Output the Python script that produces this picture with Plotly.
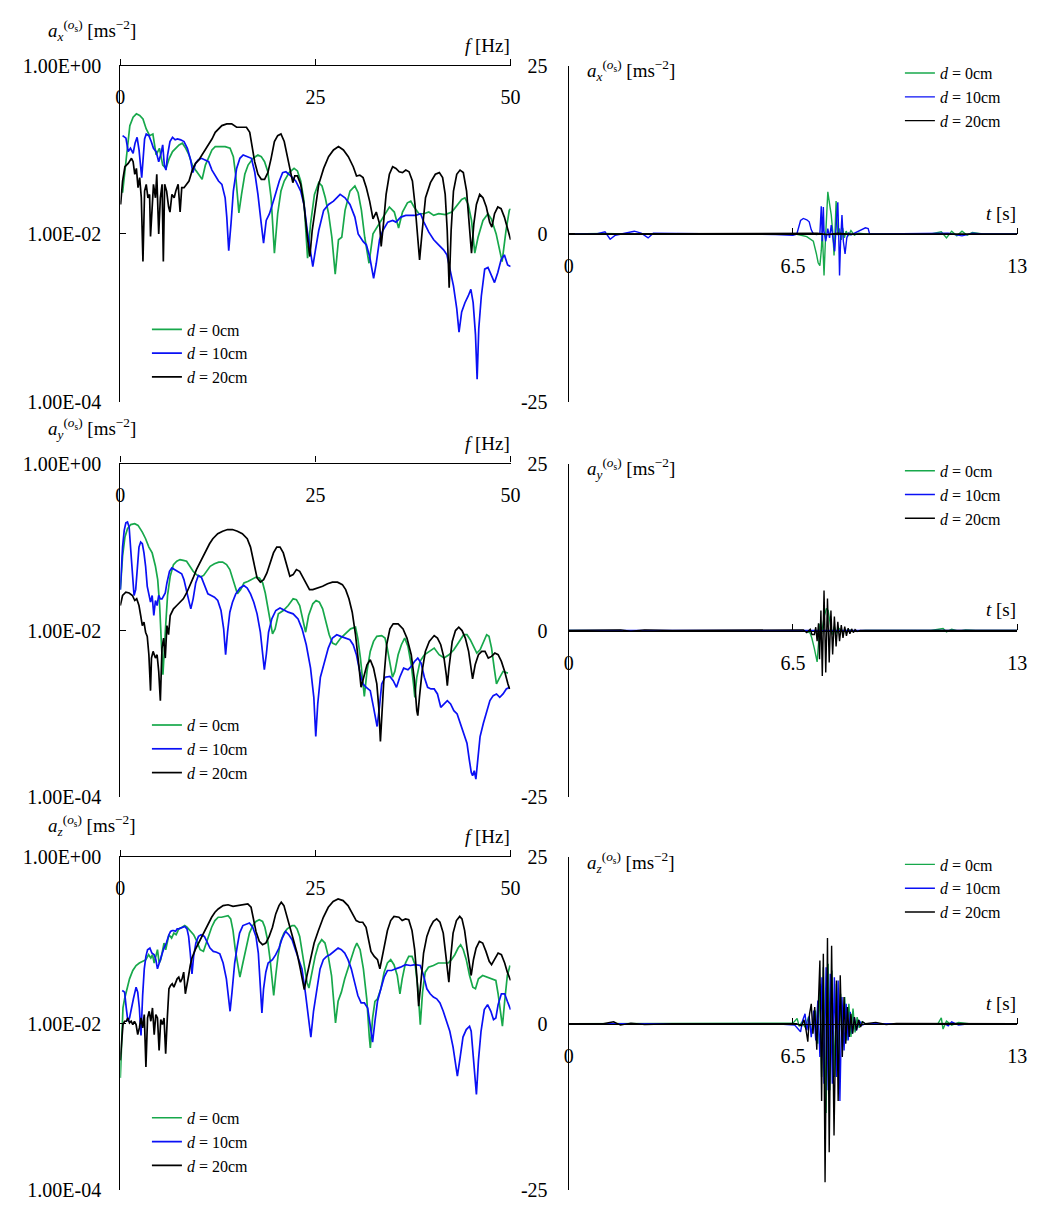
import numpy as np
import plotly.graph_objects as go

# ---------------- spectra (f [Hz], log10 amplitude) ----------------
SX_D0 = [(0.29,-1.51),(0.80,-1.06),(1.22,-0.71),(1.64,-0.61),(2.06,-0.57),(2.48,-0.59),(2.90,-0.63),(3.32,-0.75),(3.75,-0.83),(4.17,-0.81),(4.59,-1.06),(5.01,-0.98),(5.43,-1.18),(5.85,-1.22),(6.27,-1.10),(6.69,-1.02),(7.11,-0.98),(7.53,-0.94),(7.95,-0.92),(8.38,-0.98),(8.80,-1.06),(9.22,-1.18),(9.64,-1.24),(10.06,-1.29),(10.48,-1.35),(10.90,-1.18),(11.32,-1.08),(11.74,-1.00),(12.16,-0.96),(12.79,-0.96),(13.43,-0.96),(14.06,-0.98),(14.48,-1.08),(14.77,-1.29),(15.19,-1.75),(15.53,-1.53),(15.95,-1.29),(16.37,-1.18),(17.00,-1.10),(17.63,-1.06),(18.06,-1.08),(18.48,-1.14),(18.90,-1.26),(19.32,-1.57),(19.74,-2.23),(20.16,-1.76),(20.58,-1.49),(21.00,-1.37),(21.63,-1.27),(22.26,-1.22),(22.69,-1.25),(23.11,-1.37),(23.53,-1.61),(23.99,-2.29),(24.37,-1.88),(24.87,-1.53),(25.42,-1.39),(25.84,-1.43),(26.26,-1.57),(26.68,-1.76),(27.10,-2.04),(27.53,-2.48),(27.95,-2.07),(28.37,-2.04),(28.79,-1.72),(29.42,-1.49),(30.05,-1.43),(30.47,-1.51),(30.89,-1.72),(31.31,-2.04),(31.86,-2.35),(32.37,-2.00),(33.00,-1.90),(33.63,-1.80),(34.47,-1.68),(35.10,-1.74),(35.65,-1.93),(36.15,-1.74),(36.78,-1.63),(37.21,-1.61),(37.63,-1.68),(38.26,-1.76),(38.89,-1.76),(39.52,-1.74),(40.15,-1.78),(40.78,-1.76),(41.62,-1.77),(42.47,-1.74),(43.10,-1.66),(43.73,-1.59),(44.15,-1.57),(44.57,-1.65),(44.99,-1.84),(45.41,-2.23),(45.83,-2.04),(46.46,-1.84),(47.10,-1.76),(47.52,-1.82),(48.15,-2.00),(48.91,-2.33),(49.41,-1.96),(49.83,-1.72),(50.0,-1.70)]
SX_D10 = [(0.29,-0.83),(0.72,-0.86),(1.01,-1.02),(1.30,-0.98),(1.64,-1.04),(1.89,-0.92),(2.15,-0.85),(2.40,-1.00),(2.74,-1.33),(3.11,-0.87),(3.32,-0.81),(3.66,-0.83),(3.96,-0.90),(4.25,-0.98),(4.59,-1.02),(4.92,-1.14),(5.22,-1.04),(5.43,-0.94),(5.64,-1.18),(5.85,-1.24),(6.06,-1.06),(6.36,-0.90),(6.69,-0.85),(7.03,-0.88),(7.32,-0.87),(7.74,-0.88),(8.16,-0.90),(8.59,-0.98),(9.01,-1.12),(9.30,-1.27),(9.64,-1.16),(9.97,-1.12),(10.40,-1.10),(10.82,-1.12),(11.32,-1.14),(11.74,-1.24),(12.16,-1.31),(12.58,-1.37),(13.01,-1.41),(13.43,-1.57),(13.64,-1.80),(13.89,-2.20),(14.18,-1.88),(14.48,-1.49),(14.90,-1.22),(15.32,-1.10),(15.74,-1.06),(16.37,-1.08),(16.79,-1.10),(17.21,-1.26),(17.63,-1.53),(18.06,-1.88),(18.35,-2.11),(18.69,-1.84),(19.11,-1.76),(19.74,-1.57),(20.37,-1.37),(20.79,-1.27),(21.21,-1.26),(21.84,-1.31),(22.47,-1.37),(23.11,-1.49),(23.53,-1.65),(23.95,-1.96),(24.28,-2.19),(24.66,-2.39),(25.00,-2.19),(25.42,-1.96),(26.05,-1.72),(26.68,-1.65),(27.31,-1.61),(28.16,-1.53),(28.79,-1.57),(29.42,-1.65),(30.05,-1.80),(30.47,-2.00),(31.10,-2.09),(31.52,-2.13),(31.94,-2.27),(32.45,-2.53),(32.79,-2.35),(33.21,-2.07),(33.63,-1.96),(34.26,-1.86),(34.89,-1.84),(35.31,-1.86),(35.94,-1.80),(36.57,-1.78),(37.21,-1.78),(37.84,-1.78),(38.47,-1.76),(38.89,-1.86),(39.52,-1.98),(40.15,-2.07),(40.78,-2.13),(41.41,-2.19),(41.84,-2.25),(42.26,-2.42),(42.68,-2.62),(43.10,-2.89),(43.39,-3.17),(43.73,-2.93),(44.15,-2.82),(44.57,-2.74),(44.91,-2.66),(45.20,-2.82),(45.50,-3.20),(45.71,-3.73),(45.92,-3.13),(46.25,-2.74),(46.68,-2.42),(47.10,-2.40),(47.52,-2.50),(47.94,-2.58),(48.36,-2.46),(48.78,-2.31),(49.20,-2.25),(49.62,-2.37),(50.0,-2.39)]
SX_D20 = [(0.04,-1.65),(0.29,-1.37),(0.59,-1.20),(1.01,-1.16),(1.43,-1.10),(1.64,-1.14),(1.85,-1.29),(2.06,-1.22),(2.27,-1.45),(2.48,-1.33),(2.69,-1.57),(2.90,-2.33),(3.11,-1.49),(3.32,-1.41),(3.54,-1.57),(3.75,-1.53),(3.87,-2.03),(4.08,-1.57),(4.25,-1.41),(4.50,-1.57),(4.67,-1.29),(4.92,-2.00),(5.13,-1.57),(5.35,-1.41),(5.51,-2.33),(5.68,-1.41),(5.93,-1.49),(6.19,-1.68),(6.36,-1.74),(6.61,-1.53),(6.90,-1.57),(7.11,-1.49),(7.41,-1.41),(7.66,-1.74),(7.87,-1.45),(8.16,-1.45),(8.46,-1.41),(8.80,-1.37),(9.22,-1.24),(9.64,-1.16),(10.06,-1.12),(10.48,-1.06),(10.90,-1.00),(11.32,-0.94),(11.74,-0.87),(12.16,-0.79),(12.58,-0.75),(13.01,-0.71),(13.64,-0.69),(14.27,-0.69),(14.90,-0.73),(15.53,-0.73),(16.16,-0.73),(16.58,-0.79),(16.88,-0.94),(17.21,-1.14),(17.63,-1.29),(18.06,-1.35),(18.48,-1.35),(18.90,-1.27),(19.32,-1.10),(19.74,-0.90),(20.16,-0.83),(20.58,-0.81),(21.00,-0.90),(21.42,-1.10),(21.84,-1.29),(22.10,-1.39),(22.35,-1.31),(22.69,-1.31),(23.11,-1.41),(23.53,-1.65),(23.95,-2.03),(24.28,-2.27),(24.58,-1.96),(25.00,-1.65),(25.42,-1.41),(26.05,-1.22),(26.68,-1.08),(27.31,-1.00),(27.95,-0.96),(28.58,-1.00),(29.21,-1.08),(29.84,-1.20),(30.26,-1.31),(30.68,-1.30),(31.10,-1.33),(31.52,-1.45),(31.94,-1.61),(32.37,-1.82),(32.79,-1.74),(33.21,-1.88),(33.42,-2.15),(33.71,-1.88),(34.05,-1.53),(34.47,-1.29),(34.89,-1.20),(35.31,-1.22),(35.73,-1.26),(36.15,-1.27),(36.57,-1.24),(36.99,-1.26),(37.42,-1.37),(37.75,-1.65),(38.05,-2.03),(38.34,-2.31),(38.68,-1.96),(39.10,-1.57),(39.73,-1.39),(40.36,-1.29),(40.87,-1.27),(41.29,-1.33),(41.62,-1.53),(41.88,-1.96),(42.13,-2.64),(42.38,-1.96),(42.68,-1.49),(43.10,-1.29),(43.52,-1.24),(43.94,-1.27),(44.36,-1.49),(44.70,-1.84),(44.99,-2.23),(45.29,-1.88),(45.62,-1.65),(46.04,-1.53),(46.46,-1.57),(46.89,-1.68),(47.31,-1.86),(47.60,-1.92),(47.94,-1.76),(48.36,-1.68),(48.78,-1.70),(49.20,-1.80),(49.62,-1.96),(50.0,-2.07)]

SY_D0 = [(0.00,-1.51),(0.29,-1.11),(0.59,-0.88),(0.92,-0.78),(1.34,-0.73),(1.85,-0.72),(2.27,-0.74),(2.82,-0.82),(3.24,-0.90),(3.66,-1.00),(4.08,-1.07),(4.50,-1.23),(4.79,-1.39),(5.04,-1.70),(5.25,-2.13),(5.46,-2.53),(5.76,-2.02),(6.05,-1.58),(6.39,-1.35),(6.81,-1.21),(7.23,-1.17),(7.65,-1.15),(8.07,-1.16),(8.49,-1.17),(8.91,-1.23),(9.33,-1.29),(9.75,-1.33),(10.25,-1.36),(10.67,-1.34),(11.09,-1.29),(11.51,-1.23),(12.06,-1.20),(12.61,-1.18),(13.11,-1.18),(13.61,-1.21),(14.03,-1.27),(14.37,-1.37),(14.71,-1.49),(15.00,-1.56),(15.42,-1.51),(15.84,-1.43),(16.39,-1.41),(16.89,-1.38),(17.39,-1.36),(17.82,-1.37),(18.24,-1.43),(18.57,-1.55),(18.91,-1.74),(19.24,-1.94),(19.50,-2.04),(19.83,-1.98),(20.25,-1.80),(20.88,-1.76),(21.51,-1.70),(22.14,-1.62),(22.56,-1.63),(22.98,-1.70),(23.40,-1.86),(23.74,-2.02),(24.12,-1.82),(24.66,-1.68),(25.08,-1.64),(25.50,-1.66),(25.92,-1.74),(26.34,-1.88),(26.76,-2.05),(27.18,-2.15),(27.61,-2.17),(28.24,-2.09),(28.87,-2.04),(29.50,-1.98),(30.13,-1.96),(30.42,-2.09),(30.76,-2.33),(31.26,-2.79),(31.60,-2.49),(32.02,-2.25),(32.44,-2.13),(32.86,-2.07),(33.49,-2.06),(33.91,-2.09),(34.20,-2.21),(34.54,-2.41),(34.87,-2.56),(35.17,-2.49),(35.59,-2.29),(36.01,-2.17),(36.43,-2.09),(36.85,-2.19),(37.27,-2.41),(37.56,-2.64),(37.73,-2.80),(37.98,-2.56),(38.40,-2.37),(38.95,-2.29),(39.58,-2.25),(40.21,-2.21),(40.84,-2.29),(41.47,-2.33),(42.10,-2.29),(42.73,-2.23),(43.15,-2.17),(43.57,-2.11),(43.99,-2.05),(44.41,-2.05),(44.83,-2.11),(45.25,-2.19),(45.67,-2.27),(46.09,-2.23),(46.51,-2.13),(46.93,-2.05),(47.23,-2.07),(47.56,-2.21),(47.90,-2.45),(48.19,-2.64),(48.61,-2.56),(49.03,-2.49),(49.66,-2.51)]
SY_D10 = [(0.00,-1.51),(0.29,-1.00),(0.50,-0.80),(0.71,-0.71),(0.92,-0.70),(1.13,-0.76),(1.34,-1.04),(1.55,-1.35),(1.76,-1.58),(1.97,-1.51),(2.18,-1.23),(2.39,-1.00),(2.61,-0.94),(2.82,-0.96),(3.03,-1.07),(3.24,-1.23),(3.45,-1.47),(3.66,-1.58),(3.87,-1.66),(4.08,-1.58),(4.29,-1.82),(4.50,-1.64),(4.71,-1.70),(4.92,-1.58),(5.13,-1.62),(5.34,-1.62),(5.55,-1.58),(5.76,-1.55),(5.97,-1.43),(6.30,-1.29),(6.60,-1.25),(7.02,-1.27),(7.44,-1.29),(7.86,-1.32),(8.15,-1.39),(8.49,-1.55),(8.82,-1.66),(9.03,-1.74),(9.33,-1.62),(9.66,-1.43),(10.00,-1.34),(10.38,-1.36),(10.80,-1.47),(11.22,-1.56),(11.64,-1.58),(12.06,-1.60),(12.48,-1.64),(12.90,-1.76),(13.24,-1.98),(13.49,-2.29),(13.74,-2.02),(14.03,-1.78),(14.37,-1.66),(14.79,-1.56),(15.34,-1.49),(15.84,-1.46),(16.26,-1.49),(16.68,-1.56),(17.10,-1.66),(17.52,-1.80),(17.94,-2.02),(18.24,-2.29),(18.45,-2.47),(18.70,-2.29),(18.99,-2.02),(19.41,-1.86),(19.92,-1.76),(20.46,-1.73),(21.01,-1.76),(21.51,-1.78),(22.14,-1.80),(22.77,-1.86),(23.28,-1.98),(23.82,-2.17),(24.37,-2.45),(24.79,-2.80),(25.04,-3.27),(25.29,-2.88),(25.63,-2.56),(26.13,-2.37),(26.64,-2.21),(27.18,-2.09),(27.73,-2.05),(28.24,-2.07),(28.87,-2.09),(29.41,-2.11),(29.83,-2.17),(30.25,-2.29),(30.67,-2.49),(31.09,-2.64),(31.51,-2.68),(32.02,-2.72),(32.44,-2.92),(32.73,-3.07),(32.90,-3.15),(33.19,-2.92),(33.49,-2.64),(33.91,-2.56),(34.54,-2.55),(34.96,-2.60),(35.38,-2.68),(35.80,-2.56),(36.30,-2.45),(36.85,-2.47),(37.27,-2.43),(37.69,-2.37),(38.11,-2.33),(38.53,-2.39),(38.95,-2.56),(39.37,-2.68),(39.79,-2.70),(40.21,-2.70),(40.63,-2.76),(41.05,-2.92),(41.47,-2.88),(41.89,-2.84),(42.31,-2.88),(42.73,-2.96),(43.15,-3.00),(43.57,-3.11),(43.99,-3.23),(44.41,-3.35),(44.71,-3.55),(44.96,-3.70),(45.13,-3.74),(45.34,-3.68),(45.55,-3.78),(45.80,-3.51),(46.09,-3.27),(46.51,-3.11),(46.93,-2.96),(47.35,-2.84),(47.77,-2.78),(48.19,-2.76),(48.61,-2.80),(49.03,-2.76),(49.45,-2.70),(49.87,-2.68)]
SY_D20 = [(0.00,-1.70),(0.29,-1.58),(0.71,-1.54),(1.13,-1.55),(1.55,-1.58),(1.85,-1.64),(2.10,-1.62),(2.39,-1.70),(2.61,-1.82),(2.82,-1.94),(3.03,-1.90),(3.24,-2.02),(3.45,-2.07),(3.66,-2.29),(3.87,-2.72),(3.99,-2.33),(4.20,-2.25),(4.50,-2.33),(4.71,-2.29),(4.92,-2.49),(5.13,-2.84),(5.34,-2.21),(5.55,-2.09),(5.76,-2.33),(5.97,-1.94),(6.18,-2.05),(6.39,-1.82),(6.60,-1.78),(6.81,-1.74),(7.23,-1.70),(7.65,-1.66),(8.07,-1.62),(8.49,-1.55),(8.91,-1.47),(9.33,-1.37),(9.75,-1.27),(10.17,-1.19),(10.59,-1.11),(11.01,-1.04),(11.43,-0.96),(11.85,-0.90),(12.48,-0.84),(13.11,-0.81),(13.74,-0.79),(14.37,-0.79),(15.00,-0.81),(15.63,-0.84),(16.26,-0.90),(16.68,-1.00),(17.10,-1.17),(17.52,-1.37),(17.94,-1.42),(18.36,-1.39),(18.78,-1.31),(19.20,-1.19),(19.62,-1.07),(20.04,-1.00),(20.46,-1.00),(20.88,-1.07),(21.30,-1.21),(21.72,-1.35),(22.14,-1.33),(22.56,-1.27),(22.98,-1.29),(23.40,-1.37),(23.82,-1.45),(24.24,-1.51),(24.66,-1.51),(25.29,-1.49),(25.92,-1.47),(26.55,-1.44),(27.18,-1.42),(27.82,-1.42),(28.45,-1.45),(28.87,-1.51),(29.29,-1.62),(29.71,-1.78),(30.13,-2.05),(30.55,-2.41),(30.84,-2.68),(31.18,-2.56),(31.60,-2.41),(32.02,-2.35),(32.44,-2.45),(32.86,-2.64),(33.11,-2.92),(33.32,-3.33),(33.53,-2.96),(33.78,-2.56),(34.12,-2.17),(34.54,-1.98),(34.96,-1.92),(35.59,-1.92),(36.22,-1.98),(36.72,-2.09),(37.27,-2.29),(37.69,-2.60),(37.98,-2.96),(38.11,-3.02),(38.32,-2.80),(38.66,-2.49),(39.08,-2.25),(39.58,-2.13),(40.21,-2.06),(40.63,-2.09),(41.05,-2.17),(41.47,-2.33),(41.76,-2.53),(41.89,-2.66),(42.10,-2.45),(42.52,-2.13),(42.94,-2.00),(43.36,-1.96),(43.78,-2.00),(44.20,-2.09),(44.62,-2.25),(44.96,-2.49),(45.13,-2.58),(45.46,-2.41),(45.88,-2.29),(46.30,-2.25),(46.72,-2.25),(47.14,-2.33),(47.56,-2.31),(47.98,-2.27),(48.40,-2.29),(48.82,-2.37),(49.24,-2.49),(49.66,-2.64),(49.87,-2.70)]

SZ_D0 = [(0.00,-2.65),(0.17,-2.20),(0.34,-1.81),(0.55,-1.70),(0.84,-1.58),(1.18,-1.46),(1.60,-1.36),(2.02,-1.30),(2.44,-1.27),(2.86,-1.25),(3.28,-1.23),(3.62,-1.17),(3.91,-1.21),(4.12,-1.17),(4.34,-1.27),(4.55,-1.19),(4.76,-1.11),(4.97,-1.27),(5.18,-1.23),(5.39,-1.13),(5.60,-1.03),(5.81,-1.11),(6.02,-1.03),(6.23,-0.93),(6.57,-0.97),(6.86,-0.91),(7.15,-0.93),(7.49,-0.86),(7.91,-0.84),(8.25,-0.82),(8.54,-0.84),(8.96,-0.88),(9.39,-0.93),(9.81,-1.01),(10.23,-1.11),(10.65,-1.13),(10.94,-1.05),(11.28,-0.95),(11.70,-0.84),(12.12,-0.76),(12.54,-0.72),(12.96,-0.72),(13.38,-0.71),(13.80,-0.70),(14.14,-0.74),(14.44,-0.88),(14.73,-1.11),(14.98,-1.27),(15.32,-1.44),(15.70,-1.27),(16.12,-1.07),(16.54,-0.91),(16.96,-0.82),(17.38,-0.77),(17.80,-0.75),(18.22,-0.77),(18.52,-0.84),(18.86,-0.99),(19.19,-1.23),(19.44,-1.50),(19.65,-1.66),(19.91,-1.42),(20.20,-1.19),(20.54,-1.01),(20.96,-0.91),(21.38,-0.86),(22.01,-0.82),(22.31,-0.82),(22.64,-0.86),(22.98,-0.95),(23.27,-1.11),(23.61,-1.30),(23.91,-1.50),(24.16,-1.57),(24.54,-1.38),(24.96,-1.19),(25.38,-1.05),(25.80,-0.99),(26.22,-1.03),(26.64,-1.19),(27.06,-1.42),(27.36,-1.73),(27.57,-1.99),(27.90,-1.73),(28.32,-1.62),(28.75,-1.46),(29.38,-1.27),(30.01,-1.09),(30.30,-1.03),(30.72,-1.11),(31.14,-1.34),(31.57,-1.70),(31.90,-2.16),(32.03,-2.29),(32.32,-1.93),(32.62,-1.73),(32.95,-1.70),(33.38,-1.58),(33.80,-1.38),(34.22,-1.27),(34.64,-1.23),(35.06,-1.29),(35.48,-1.42),(35.82,-1.64),(36.11,-1.46),(36.53,-1.27),(36.95,-1.19),(37.37,-1.19),(37.79,-1.30),(38.13,-1.58),(38.43,-2.01),(38.72,-1.62),(39.06,-1.38),(39.48,-1.32),(40.11,-1.30),(40.74,-1.27),(41.37,-1.27),(42.00,-1.27),(42.42,-1.23),(42.85,-1.17),(43.27,-1.09),(43.60,-1.05),(43.94,-1.11),(44.32,-1.23),(44.74,-1.42),(45.16,-1.56),(45.50,-1.58),(45.88,-1.46),(46.42,-1.42),(47.05,-1.44),(47.68,-1.46),(48.11,-1.48),(48.40,-1.64),(48.65,-1.81),(48.95,-2.03),(49.24,-1.73),(49.58,-1.42),(49.92,-1.30)]
SZ_D10 = [(0.25,-1.60),(0.55,-1.62),(0.76,-1.81),(0.97,-1.97),(1.18,-1.93),(1.39,-1.81),(1.68,-1.70),(2.02,-1.56),(2.23,-1.62),(2.44,-1.81),(2.65,-2.14),(2.86,-1.66),(3.07,-1.34),(3.28,-1.19),(3.49,-1.11),(3.79,-1.09),(4.04,-1.15),(4.34,-1.17),(4.55,-1.23),(4.76,-1.34),(4.97,-1.27),(5.18,-1.19),(5.39,-1.15),(5.60,-1.09),(5.89,-1.03),(6.23,-0.93),(6.44,-0.89),(6.65,-0.88),(6.86,-0.88),(7.07,-0.89),(7.28,-0.86),(7.49,-0.86),(7.91,-0.84),(8.25,-0.83),(8.54,-0.86),(8.75,-0.95),(8.96,-1.15),(9.18,-1.40),(9.39,-1.19),(9.68,-1.03),(10.02,-0.95),(10.35,-0.93),(10.77,-0.95),(11.07,-1.01),(11.49,-1.09),(11.91,-1.13),(12.33,-1.14),(12.75,-1.16),(13.17,-1.27),(13.59,-1.46),(13.89,-1.68),(14.06,-1.85),(14.31,-1.62),(14.65,-1.27),(14.98,-1.07),(15.28,-0.91),(15.70,-0.82),(16.12,-0.80),(16.54,-0.79),(16.96,-0.84),(17.38,-0.95),(17.68,-1.15),(17.93,-1.50),(18.14,-1.87),(18.35,-1.58),(18.64,-1.38),(18.94,-1.27),(19.49,-1.23),(19.91,-1.17),(20.33,-1.09),(20.75,-0.97),(21.17,-0.89),(21.59,-0.93),(22.01,-0.99),(22.43,-1.11),(22.85,-1.23),(23.27,-1.34),(23.70,-1.62),(24.12,-1.93),(24.41,-2.16),(24.75,-1.85),(25.17,-1.58),(25.59,-1.34),(26.01,-1.23),(26.43,-1.19),(26.85,-1.17),(27.36,-1.13),(27.90,-1.09),(28.32,-1.11),(28.75,-1.15),(29.17,-1.23),(29.59,-1.34),(30.01,-1.50),(30.43,-1.66),(30.85,-1.75),(31.27,-1.75),(31.69,-1.81),(31.99,-2.01),(32.32,-2.22),(32.62,-1.97),(32.95,-1.73),(33.38,-1.58),(33.80,-1.44),(34.22,-1.36),(34.76,-1.36),(35.27,-1.34),(35.90,-1.32),(36.53,-1.29),(37.16,-1.30),(37.79,-1.29),(38.43,-1.30),(38.85,-1.42),(39.27,-1.58),(39.69,-1.64),(40.11,-1.68),(40.53,-1.70),(40.95,-1.75),(41.37,-1.85),(41.79,-1.97),(42.21,-2.09),(42.63,-2.28),(42.93,-2.48),(43.18,-2.63),(43.48,-2.44),(43.90,-2.16),(44.32,-2.07),(44.74,-2.03),(44.95,-2.09),(45.20,-2.36),(45.45,-2.67),(45.62,-2.85),(45.88,-2.44),(46.21,-2.09),(46.63,-1.83),(47.05,-1.77),(47.47,-1.85),(47.81,-1.95),(48.11,-1.93),(48.40,-1.77),(48.82,-1.64),(49.24,-1.64),(49.58,-1.73),(50.0,-1.83)]
SZ_D20 = [(0.00,-2.44),(0.17,-2.16),(0.34,-2.01),(0.55,-1.97),(0.76,-1.97),(0.97,-1.93),(1.18,-1.99),(1.39,-1.97),(1.60,-2.01),(1.81,-1.97),(2.02,-2.01),(2.23,-2.13),(2.44,-2.05),(2.65,-1.93),(2.86,-2.05),(3.07,-1.89),(3.28,-2.52),(3.49,-1.93),(3.70,-1.85),(3.91,-1.97),(4.12,-1.81),(4.34,-2.13),(4.55,-1.89),(4.76,-1.93),(4.97,-2.32),(5.18,-1.95),(5.39,-2.01),(5.60,-1.93),(5.81,-2.36),(6.02,-1.93),(6.23,-1.58),(6.44,-1.54),(6.65,-1.52),(6.86,-1.56),(7.07,-1.50),(7.28,-1.46),(7.49,-1.44),(7.70,-1.50),(7.91,-1.46),(8.12,-1.38),(8.33,-1.64),(8.54,-1.50),(8.75,-1.42),(8.96,-1.30),(9.18,-1.21),(9.60,-1.11),(10.02,-1.03),(10.44,-0.95),(10.86,-0.88),(11.28,-0.80),(11.70,-0.72),(12.12,-0.66),(12.54,-0.62),(13.17,-0.58),(13.80,-0.57),(14.44,-0.59),(15.07,-0.58),(15.70,-0.57),(16.33,-0.56),(16.75,-0.60),(17.09,-0.76),(17.38,-0.89),(17.80,-1.01),(18.22,-1.05),(18.64,-1.03),(19.07,-0.95),(19.49,-0.84),(19.91,-0.68),(20.33,-0.58),(20.62,-0.54),(20.96,-0.58),(21.38,-0.72),(21.80,-0.88),(22.22,-0.99),(22.64,-1.15),(23.06,-1.34),(23.40,-1.54),(23.57,-1.59),(23.91,-1.42),(24.33,-1.23),(24.83,-1.03),(25.38,-0.88),(26.01,-0.72),(26.64,-0.60),(27.27,-0.53),(27.90,-0.50),(28.54,-0.52),(29.17,-0.58),(29.80,-0.68),(30.22,-0.76),(30.64,-0.78),(31.06,-0.78),(31.48,-0.84),(31.82,-0.99),(32.11,-1.13),(32.53,-1.19),(32.95,-1.23),(33.25,-1.34),(33.50,-1.23),(33.80,-1.07),(34.22,-0.88),(34.64,-0.76),(35.06,-0.71),(35.69,-0.72),(36.11,-0.76),(36.53,-0.74),(36.95,-0.75),(37.37,-0.88),(37.71,-1.11),(38.01,-1.46),(38.22,-1.79),(38.51,-1.50),(38.85,-1.15),(39.27,-0.95),(39.69,-0.84),(40.11,-0.77),(40.53,-0.74),(40.95,-0.78),(41.37,-0.91),(41.67,-1.15),(41.92,-1.38),(42.09,-1.50),(42.34,-1.19),(42.63,-0.91),(43.06,-0.76),(43.48,-0.71),(43.77,-0.74),(44.11,-0.88),(44.44,-1.11),(44.74,-1.30),(44.95,-1.42),(45.24,-1.23),(45.58,-1.09),(46.00,-1.01),(46.42,-1.03),(46.84,-1.13),(47.26,-1.25),(47.56,-1.29),(47.98,-1.21),(48.40,-1.15),(48.82,-1.17),(49.24,-1.27),(49.58,-1.38),(50.0,-1.48)]

# ---------------- time histories (t [s], a [m/s^2]) ----------------
TX_D0 = [(0,0),(1.0,0.05),(2.0,-0.05),(3.0,0),(4.0,0.02),(5.0,0),(6.0,0),(6.61,-0.05),(6.90,-0.4),(7.09,-1.1),(7.18,-3.0),(7.23,-4.3),(7.28,-4.75),(7.32,-2.5),(7.35,0.5),(7.38,-3.5),(7.40,-6.2),(7.44,-1.0),(7.48,3.5),(7.51,6.25),(7.56,4.5),(7.61,2.8),(7.66,-0.2),(7.69,-3.2),(7.71,-1.0),(7.73,3.5),(7.75,4.9),(7.78,1.5),(7.80,-0.2),(7.85,0.8),(7.90,-0.9),(7.94,0.9),(7.99,-0.6),(8.04,0.4),(8.11,-0.3),(8.18,0.5),(8.28,-0.2),(8.40,0.1),(8.6,0),(9.5,0),(10.5,0),(10.8,0.3),(10.95,-0.6),(11.1,0.4),(11.25,-0.3),(11.4,0.4),(11.55,-0.2),(11.7,0.2),(12.0,0),(13,0)]
TX_D10 = [(0,0),(0.8,0),(1.05,0.3),(1.2,-0.8),(1.35,-0.2),(1.6,0.1),(1.9,0.4),(2.1,0.1),(2.3,-0.6),(2.45,0.1),(2.7,0.1),(3.0,0),(4.5,0),(6.0,-0.1),(6.5,-0.2),(6.61,-0.05),(6.66,0.8),(6.72,2.0),(6.80,2.3),(6.90,2.1),(6.97,1.8),(7.03,0.6),(7.09,0),(7.18,-0.1),(7.28,0),(7.32,4.1),(7.35,-1.1),(7.38,4.0),(7.40,0.4),(7.45,-1.1),(7.51,0.8),(7.56,-0.6),(7.61,1.3),(7.66,-1.1),(7.71,-2.6),(7.77,2.8),(7.80,4.7),(7.83,-1.1),(7.85,-6.2),(7.88,-1.1),(7.92,2.8),(7.96,-1.1),(8.01,-3.0),(8.06,-0.6),(8.11,0.1),(8.18,-0.15),(8.28,0.1),(8.37,0.34),(8.51,0.6),(8.60,0.9),(8.68,0.8),(8.72,0),(9.0,0),(10.5,0),(11.0,0.1),(11.4,-0.3),(11.7,0.1),(12.0,0),(13,0)]
TX_D20 = [(0,0),(6.5,0),(7.2,0.1),(7.5,-0.1),(7.8,0.1),(8.1,0),(13,0)]

TY_D0 = [(0,0),(2,0),(6.0,0),(6.9,-0.1),(7.0,-0.4),(7.05,-1.2),(7.12,-2.7),(7.17,-3.9),(7.2,-4.7),(7.24,-2.0),(7.28,1.0),(7.33,-0.5),(7.40,2.0),(7.47,3.3),(7.52,3.0),(7.58,1.0),(7.64,-0.6),(7.70,0.6),(7.76,-0.4),(7.84,0.3),(7.95,-0.2),(8.1,0.1),(8.3,-0.1),(8.6,0),(10.5,0),(10.85,0.3),(10.95,-0.2),(11.1,0.2),(11.3,-0.1),(11.5,0.1),(11.8,0),(13,0)]
TY_D10 = [(0,0),(7.0,0),(7.5,0.05),(8.0,0),(13,0)]
TY_D20 = [(0,0),(1.5,0.1),(1.8,-0.1),(2.2,0.1),(3.0,0),(6.5,0),(6.8,0.1),(6.9,-0.3),(7.0,0.2),(7.05,-0.6),(7.12,-0.6),(7.16,0.5),(7.20,-1.6),(7.24,1.1),(7.27,-4.3),(7.31,3.0),(7.35,-6.8),(7.40,6.0),(7.45,-6.3),(7.50,4.8),(7.55,-4.8),(7.60,3.0),(7.65,-3.6),(7.70,2.1),(7.75,-2.4),(7.80,1.3),(7.85,-1.6),(7.90,0.8),(7.95,-1.1),(8.00,0.6),(8.05,-0.8),(8.10,0.35),(8.15,-0.5),(8.20,0.25),(8.25,-0.3),(8.30,0.15),(8.36,-0.15),(8.45,0),(9.0,0),(13,0)]

TZ_D0 = [(0,0),(6.0,0),(6.5,0.1),(6.62,0.8),(6.68,-0.4),(6.75,0.2),(6.85,-0.5),(6.95,1.0),(7.05,-1.5),(7.15,2.0),(7.22,-3.0),(7.28,6.0),(7.33,-8.0),(7.38,8.5),(7.46,-13.4),(7.52,9.0),(7.57,-10.0),(7.63,8.0),(7.70,-8.0),(7.76,6.0),(7.82,-5.0),(7.88,4.5),(7.94,-3.5),(8.00,4.0),(8.06,-2.5),(8.12,3.0),(8.18,-2.0),(8.24,2.3),(8.30,-1.3),(8.36,1.0),(8.42,-0.6),(8.5,0.3),(8.6,0),(10.7,0),(10.8,0.9),(10.85,-0.8),(10.95,0.4),(11.1,-0.2),(11.3,0.2),(11.6,0),(13,0)]
TZ_D10 = [(0,0),(6.0,0),(6.55,-0.2),(6.65,-0.8),(6.72,-1.2),(6.78,0.5),(6.85,1.5),(6.9,-1.0),(6.97,1.2),(7.03,-2.0),(7.1,2.0),(7.16,-2.5),(7.22,3.5),(7.28,-5.0),(7.34,7.0),(7.40,-9.0),(7.46,8.5),(7.52,-10.0),(7.58,7.5),(7.64,-9.0),(7.70,7.0),(7.76,-8.0),(7.81,6.5),(7.86,-11.6),(7.92,4.0),(7.98,-4.0),(8.04,3.0),(8.10,-2.5),(8.16,1.8),(8.22,-1.5),(8.28,1.0),(8.34,-1.0),(8.42,0.5),(8.5,-0.2),(8.6,0),(10.9,0),(11.0,-0.3),(11.1,0.3),(11.3,-0.2),(11.6,0),(13,0)]
TZ_D20 = [(0,0),(1.0,0),(1.3,0.3),(1.5,-0.2),(1.8,0.1),(2.2,-0.1),(3.0,0),(6.0,0),(6.6,0),(6.75,-0.3),(6.82,0.6),(6.88,-1.0),(6.93,-2.7),(6.98,1.5),(7.03,3.0),(7.08,-1.5),(7.13,2.5),(7.19,-3.9),(7.23,1.0),(7.28,9.5),(7.33,-11.6),(7.38,10.5),(7.43,-23.8),(7.50,12.9),(7.55,-19.3),(7.62,11.7),(7.69,-16.8),(7.76,6.5),(7.81,-11.6),(7.87,7.3),(7.93,-5.0),(7.98,4.0),(8.03,-3.0),(8.08,2.5),(8.13,-2.0),(8.18,1.5),(8.23,-1.5),(8.28,1.0),(8.34,-1.0),(8.40,0.6),(8.46,-0.5),(8.52,0.3),(8.6,0),(8.9,0.2),(9.2,-0.1),(9.5,0.05),(13,0)]

SERIES_NAMES = ["<i>d</i> = 0cm", "<i>d</i> = 10cm", "<i>d</i> = 20cm"]
COLORS = ["#17a84b", "#0a10f5", "#000000"]
COMPONENTS = ["x", "y", "z"]
SPECTRA = [[SX_D0, SX_D10, SX_D20], [SY_D0, SY_D10, SY_D20], [SZ_D0, SZ_D10, SZ_D20]]
HISTORIES = [[TX_D0, TX_D10, TX_D20], [TY_D0, TY_D10, TY_D20], [TZ_D0, TZ_D10, TZ_D20]]
SPEC_TICKS = [1.0, 0.01, 0.0001]
SPEC_TICKTEXT = ["1.00E+00", "1.00E-02", "1.00E-04"]
F_TICKS = [0, 25, 50]
T_TICKS = [0, 6.5, 13]
T_TICKTEXT = ["0", "6.5", "13"]
A_TICKS = [-25, 0, 25]
A_TICKTEXT = ["-25", "0", "25"]

W, H = 1041, 1211
FONT = "Liberation Serif, DejaVu Serif, serif"

def px(x):
    return x / W

def py(y):
    return 1 - y / H

ROWS = [(56, 398), (461, 801), (862, 1201)]
TITLE_GAP = [36, 36, 32]
LEFT_X = (117, 513)
RIGHT_X = (572, 1027)

fig = go.Figure()
layout = dict(width=W, height=H, margin=dict(l=0, r=0, t=0, b=0), autosize=False,
              paper_bgcolor="white", plot_bgcolor="white", showlegend=True,
              font=dict(family=FONT, size=17, color="black"))
annotations = []

axcommon = dict(showgrid=False, zeroline=False, showline=True, linecolor="black",
                linewidth=1.3, tickcolor="black", tickwidth=1.3, ticklen=6,
                tickfont=dict(family=FONT, size=20, color="black"))

for r in range(3):
    top, bot = ROWS[r]
    ydom = [py(bot), py(top)]
    li = 2 * r + 1
    ri = 2 * r + 2
    lx, ly = f"x{li if li > 1 else ''}", f"y{li if li > 1 else ''}"
    rx, ry = f"x{ri}", f"y{ri}"
    lxl, rxl = f"x{6 + li}", f"x{6 + ri}"
    lleg = "legend" if r == 0 else f"legend{2*r+1}"
    rleg = f"legend{2*r+2}"
    for k in range(3):
        data = SPECTRA[r][k]
        f = [p[0] for p in data]
        amp = [10 ** p[1] for p in data]
        fig.add_trace(go.Scatter(x=f, y=amp, mode="lines", name=SERIES_NAMES[k],
                                 line=dict(color=COLORS[k], width=1.7),
                                 xaxis=lx, yaxis=ly, legend=lleg))
    for k in range(3):
        data = HISTORIES[r][k]
        t = [p[0] for p in data]
        a = [p[1] for p in data]
        fig.add_trace(go.Scatter(x=t, y=a, mode="lines", name=SERIES_NAMES[k],
                                 line=dict(color=COLORS[k], width=1.4),
                                 xaxis=rx, yaxis=ry, legend=rleg))
    # empty traces so that the label-only overlay axes are drawn
    fig.add_trace(go.Scatter(x=[], y=[], xaxis=lxl, yaxis=ly, showlegend=False, hoverinfo="skip"))
    fig.add_trace(go.Scatter(x=[], y=[], xaxis=rxl, yaxis=ry, showlegend=False, hoverinfo="skip"))

    # left spectrum axes (tick marks up, labels from an overlay axis below the line)
    layout[f"xaxis{li if li > 1 else ''}"] = dict(axcommon, domain=[px(LEFT_X[0]), px(LEFT_X[1])],
        range=[0, 50], side="top", anchor=ly, tickvals=F_TICKS, ticks="outside",
        showticklabels=False)
    layout[f"xaxis{6 + li}"] = dict(axcommon, overlaying=lx, range=[0, 50], side="bottom",
        anchor="free", position=ydom[1], showline=False, ticks="", tickvals=F_TICKS,
        ticklabelstandoff=17)
    layout[f"yaxis{li if li > 1 else ''}"] = dict(axcommon, domain=ydom, type="log", range=[-4, 0],
        anchor=lx, tickvals=SPEC_TICKS, ticktext=SPEC_TICKTEXT, ticks="inside", ticklabelstandoff=14)
    # right time-history axes
    mid = (ydom[0] + ydom[1]) / 2
    layout[f"xaxis{ri}"] = dict(axcommon, domain=[px(RIGHT_X[0]), px(RIGHT_X[1])],
        range=[0, 13], side="top", anchor="free", position=mid,
        tickvals=T_TICKS, ticks="outside", showticklabels=False)
    layout[f"xaxis{6 + ri}"] = dict(axcommon, overlaying=rx, range=[0, 13], side="bottom",
        anchor="free", position=mid, showline=False, ticks="", tickvals=T_TICKS,
        ticktext=T_TICKTEXT, ticklabelstandoff=18)
    layout[f"yaxis{ri}"] = dict(axcommon, domain=ydom, range=[-25, 25], anchor=rx,
        tickvals=A_TICKS, ticktext=A_TICKTEXT, ticks="inside", ticklabelstandoff=16)
    # legends
    layout[lleg] = dict(x=px(144), y=py(ROWS[r][1] - 91), xanchor="left", yanchor="top",
                        bgcolor="rgba(0,0,0,0)", font=dict(family=FONT, size=16),
                        tracegroupgap=0)
    layout[rleg] = dict(x=px(908), y=py(ROWS[r][0] - 10), xanchor="left", yanchor="top",
                        bgcolor="rgba(0,0,0,0)", font=dict(family=FONT, size=16),
                        tracegroupgap=0)
    comp = COMPONENTS[r]
    ytitle = (f"<i>a</i><sub><i>{comp}</i></sub><sup>(<i>o</i><sub>s</sub>)</sup>"
              " [ms<sup>−2</sup>]")
    annotations += [
        dict(text=ytitle, x=px(88), y=py(top - TITLE_GAP[r]), xref="paper", yref="paper",
             xanchor="center", yanchor="middle", showarrow=False, font=dict(size=19)),
        dict(text="<i>f</i> [Hz]", x=px(514), y=py(top - 21), xref="paper", yref="paper",
             xanchor="right", yanchor="middle", showarrow=False, font=dict(size=19)),
        dict(text=ytitle, x=px(588), y=py(top + 5), xref="paper", yref="paper",
             xanchor="left", yanchor="middle", showarrow=False, font=dict(size=19)),
        dict(text="<i>t</i> [s]", x=px(1028), y=py((top + bot) / 2 - 21), xref="paper", yref="paper",
             xanchor="right", yanchor="middle", showarrow=False, font=dict(size=19)),
    ]

layout["annotations"] = annotations
fig.update_layout(**layout)
fig.write_html("out.html", config={"responsive": False})
